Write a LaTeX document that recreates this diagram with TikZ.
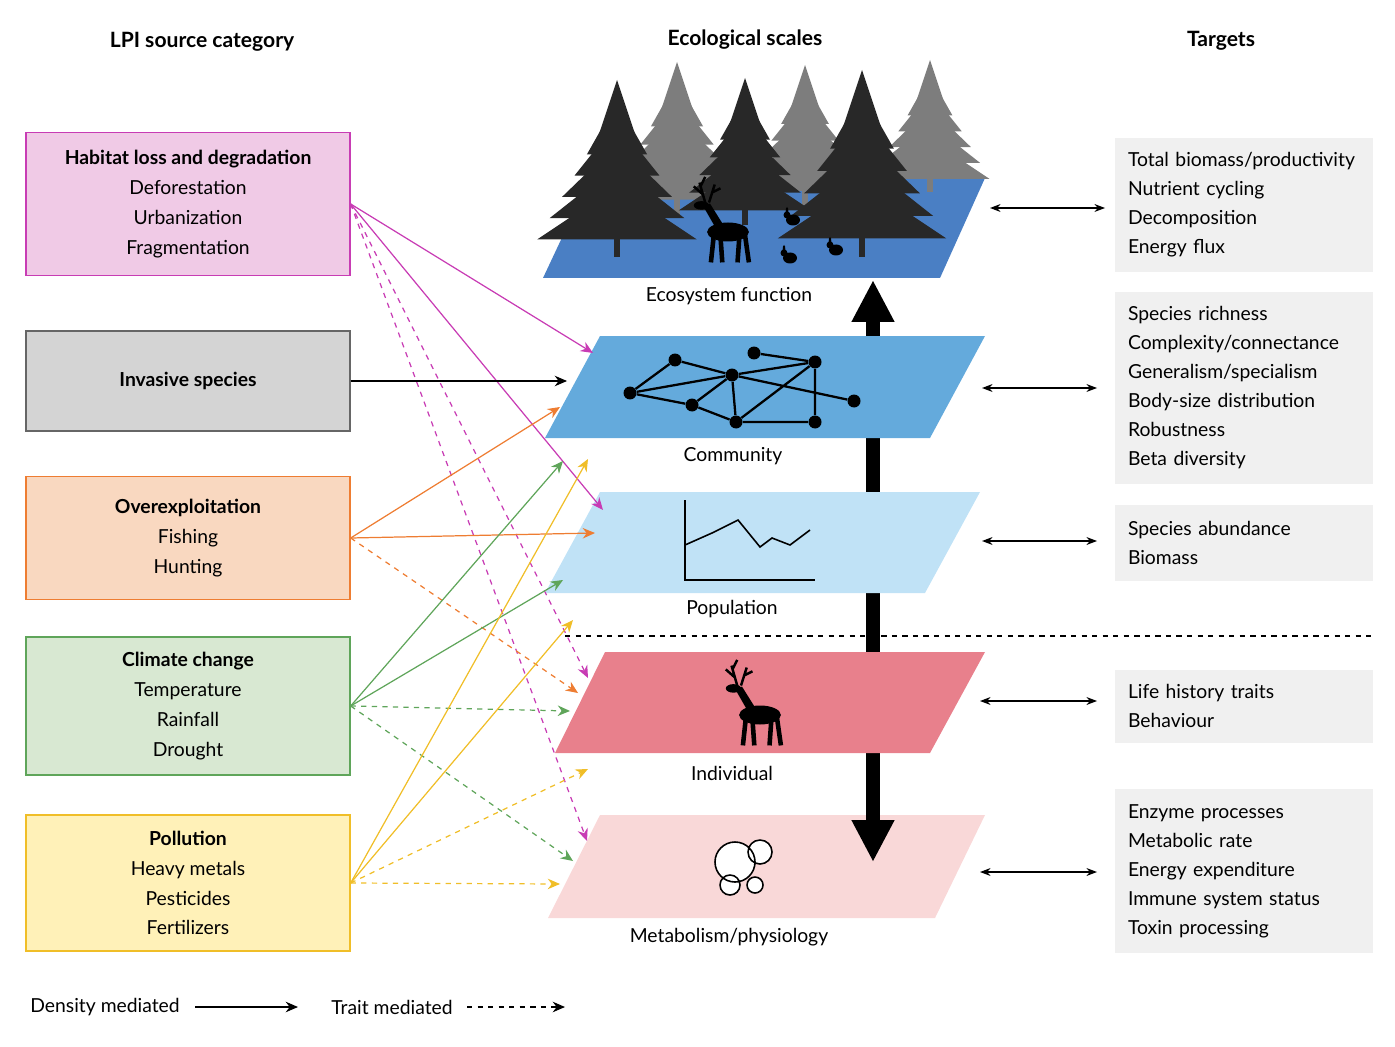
\documentclass[tikz,border=0pt]{standalone}
\usepackage{fontspec}
\setmainfont{Lato}
\usetikzlibrary{positioning,calc,arrows.meta}
\definecolor{magen}{RGB}{200,60,180}
\definecolor{habfill}{RGB}{240,202,230}
\definecolor{invfill}{RGB}{212,212,212}
\definecolor{ovrline}{RGB}{238,125,50}
\definecolor{ovrfill}{RGB}{249,216,192}
\definecolor{climline}{RGB}{95,165,90}
\definecolor{climfill}{RGB}{216,232,210}
\definecolor{polline}{RGB}{240,190,40}
\definecolor{polfill}{RGB}{255,241,184}
\definecolor{ecofill}{RGB}{74,127,196}
\definecolor{comfill}{RGB}{100,170,220}
\definecolor{popfill}{RGB}{192,226,246}
\definecolor{indfill}{RGB}{232,128,140}
\definecolor{metfill}{RGB}{249,216,216}
\definecolor{tgtfill}{RGB}{240,240,240}
\definecolor{treedark}{RGB}{40,40,40}
\definecolor{treegray}{RGB}{125,125,125}
\newcommand\spruce[4]{% x, top y, bottom y, colour
  \foreach \k in {0,...,5}{
    \fill[#4] ({#1-(0.1+0.07*\k)*(#3-#2)},{#2+(0.3+0.12*\k)*(#3-#2)})
      -- (#1,{#2+0.12*\k*(#3-#2)})
      -- ({#1+(0.1+0.07*\k)*(#3-#2)},{#2+(0.3+0.12*\k)*(#3-#2)}) -- cycle;}
  \fill[#4] (#1-3,#3-25) rectangle (#1+3,#3);}
\tikzset{
  deer/.pic={
    \fill (0,0) ellipse (22 and 10);
    \fill (-14,-6) -- (-26,-27) -- (-19,-30) -- (-4,-6) -- cycle;
    \fill (-28,-28) ellipse (8 and 4.5);
    \foreach \a/\b in {-15/-18,-8/-6,12/10,18/22}
      \draw[line width=2.6pt] (\a,4) -- (\b,32);
    \draw[line width=1.4pt] (-24,-31) -- (-30,-52) (-27,-40) -- (-36,-48)
      (-29,-48) -- (-24,-58) (-20,-31) -- (-14,-50) (-16,-42) -- (-8,-46);
  },
  rabbit/.pic={
    \fill (0,0) ellipse (7 and 5.5);
    \fill (-6,-5) circle (3.5);
    \fill (-6,-8) ellipse (1.4 and 5);
  },
  src/.style={draw,line width=0.8pt,minimum width=6.48cm,align=center,
    font=\fontsize{11}{17}\selectfont},
  tgt/.style={fill=tgtfill,minimum width=5.16cm,text width=4.64cm,align=left,
    font=\fontsize{11}{16.5}\selectfont},
  lab/.style={font=\fontsize{11}{13}\selectfont},
  head/.style={font=\bfseries\fontsize{12}{14}\selectfont},
  dens/.style={-{Stealth[length=7pt,width=6pt]},line width=0.7pt},
  trait/.style={dens,dashed},
  twoway/.style={{Stealth[length=6pt]}-{Stealth[length=6pt]},line width=0.7pt}
}
\begin{document}
\begin{tikzpicture}[x=0.02cm,y=-0.02cm]
  \useasboundingbox (0,0) rectangle (1395,1047);
  % headers
  \node[head] (hL) at (202,42) {LPI source category};
  \node[head] (hM) at (745,40) {Ecological scales};
  \node[head] (hR) at (1221,41) {Targets};
  % source boxes
  \node[src,draw=magen,fill=habfill,minimum height=2.86cm] (hab) at (188,204)
    {\textbf{Habitat loss and degradation}\\Deforestation\\Urbanization\\Fragmentation};
  \node[src,draw=gray!80!black,fill=invfill,minimum height=2cm] (inv) at (188,381)
    {\textbf{Invasive species}};
  \node[src,draw=ovrline,fill=ovrfill,minimum height=2.46cm] (ovr) at (188,538)
    {\textbf{Overexploitation}\\Fishing\\Hunting};
  \node[src,draw=climline,fill=climfill,minimum height=2.76cm] (clim) at (188,706)
    {\textbf{Climate change}\\Temperature\\Rainfall\\Drought};
  \node[src,draw=polline,fill=polfill,minimum height=2.72cm] (pol) at (188,883)
    {\textbf{Pollution}\\Heavy metals\\Pesticides\\Fertilizers};
  % planes and big arrow
  \fill[metfill] (548,918) -- (935,918) -- (985,815) -- (600,815) -- cycle;
  \draw[line width=0.28cm,{Triangle[length=0.84cm,width=0.8cm]}-{Triangle[length=0.84cm,width=0.8cm]}]
    (873,280) -- (873,862);
  \fill[indfill] (555,753) -- (930,753) -- (985,652) -- (605,652) -- cycle;
  \fill[popfill] (545,593) -- (925,593) -- (980,492) -- (600,492) -- cycle;
  \fill[comfill] (545,438) -- (930,438) -- (985,336) -- (600,336) -- cycle;
  \fill[ecofill] (543,278) -- (940,278) -- (985,178) -- (590,178) -- cycle;
  \draw[dashed,line width=0.8pt] (565,636) -- (1375,636);
  % trees and animals
  \spruce{677}{62}{215}{treegray}
  \spruce{805}{65}{205}{treegray}
  \spruce{930}{60}{192}{treegray}
  \spruce{617}{80}{257}{treedark}
  \spruce{745}{78}{225}{treedark}
  \spruce{862}{70}{257}{treedark}
  \pic[black,scale=0.95] at (728,232) {deer};
  \pic[black] at (793,220) {rabbit};
  \pic[black] at (790,258) {rabbit};
  \pic[black] at (836,250) {rabbit};
  \pic[black,scale=0.95] at (760,715) {deer};
  % network
  \foreach \n/\p in {a/{630,393},b/{675,360},c/{732,375},d/{754,353},e/{815,362},
      f/{692,405},g/{736,422},h/{815,422},i/{854,401}}
    \node[circle,fill=black,inner sep=0pt,minimum size=0.26cm] (\n) at (\p) {};
  \draw[line width=1.3pt] (a) -- (b) (a) -- (c) (a) -- (f) (b) -- (c) (c) -- (f)
    (c) -- (g) (c) -- (e) (c) -- (i) (d) -- (e) (e) -- (h) (g) -- (h) (g) -- (e) (f) -- (g);
  % population chart
  \draw[line width=0.9pt] (685,500) -- (685,580) -- (815,580);
  \draw[line width=0.9pt] (685,545) -- (712,533) -- (738,520) -- (760,547)
    -- (772,538) -- (790,545) -- (810,530);
  % cells
  \draw[line width=0.9pt,fill=white] (760,852) circle (12) (735,862) circle (20)
    (730,885) circle (10) (755,885) circle (8);
  % plane labels
  \node[lab] (lEco) at (729,296) {Ecosystem function};
  \node[lab] (lCom) at (733,456) {Community};
  \node[lab] (lPop) at (732,609) {Population};
  \node[lab] (lInd) at (732,773) {Individual};
  \node[lab] (lMet) at (729,937) {Metabolism/physiology};
  % targets
  \node[tgt,minimum height=2.7cm] (t1) at (1244,205)
    {Total biomass/productivity\\Nutrient cycling\\Decomposition\\Energy flux};
  \node[tgt,minimum height=3.86cm] (t2) at (1244,388)
    {Species richness\\Complexity/connectance\\Generalism/specialism\\Body-size distribution\\Robustness\\Beta diversity};
  \node[tgt,minimum height=1.54cm] (t3) at (1244,543) {Species abundance\\Biomass};
  \node[tgt,minimum height=1.46cm] (t4) at (1244,706) {Life history traits\\Behaviour};
  \node[tgt,minimum height=3.28cm] (t5) at (1244,871)
    {Enzyme processes\\Metabolic rate\\Energy expenditure\\Immune system status\\Toxin processing};
  \foreach \y/\a/\b in {208/990/1105,388/982/1097,541/982/1097,701/980/1097,872/980/1097}{
    \coordinate (pl) at (\a,\y); \coordinate (tg) at (\b,\y);
    \draw[twoway] (pl) -- (tg);}
  % source arrows
  \foreach \p/\c/\s/\q in {{593,353}/magen/dens/hab, {603,510}/magen/dens/hab,
      {588,678}/magen/trait/hab, {587,841}/magen/trait/hab,
      {567,381}/black/dens/inv,
      {560,407}/ovrline/dens/ovr, {595,533}/ovrline/dens/ovr, {578,693}/ovrline/trait/ovr,
      {563,461}/climline/dens/clim, {563,580}/climline/dens/clim,
      {570,711}/climline/trait/clim, {573,861}/climline/trait/clim,
      {588,459}/polline/dens/pol, {573,620}/polline/dens/pol,
      {588,769}/polline/trait/pol, {560,884}/polline/trait/pol}{
    \coordinate (end) at (\p);
    \draw[\s,draw=\c,-{Stealth[length=7pt,width=6pt,fill=\c]}] (\q.east) -- (end);}
  % legend
  \node[lab] (dLeg) at (105,1007) {Density mediated};
  \coordinate (d1) at (195,1007); \coordinate (d2) at (298,1007);
  \draw[dens] (d1) -- (d2);
  \node[lab] (tLeg) at (392,1007) {Trait mediated};
  \coordinate (t1a) at (467,1007); \coordinate (t2a) at (565,1007);
  \draw[trait] (t1a) -- (t2a);
\end{tikzpicture}
\end{document}
